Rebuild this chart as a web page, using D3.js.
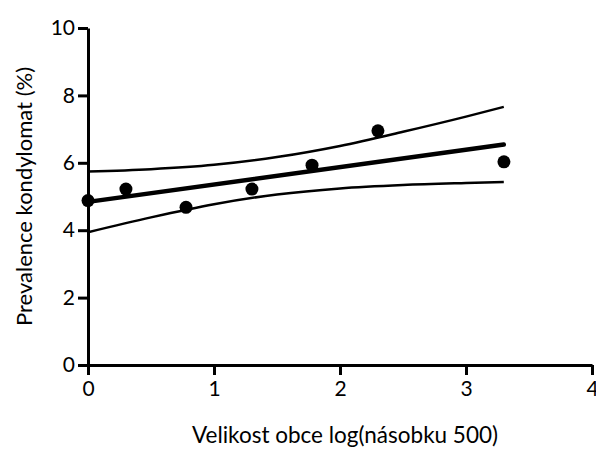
<!DOCTYPE html>
<html>
<head>
<meta charset="utf-8">
<script src="https://cdn.jsdelivr.net/npm/d3@7"></script>
<style>
  body { margin: 0; background: #fff; }
  text { font-family: Lato, "Noto Sans", sans-serif; fill: #000; }
</style>
</head>
<body>
<div id="chart"></div>
<script>
// data
const xs = [0, 0.301, 0.778, 1.301, 1.778, 2.301, 3.301]
const ys = [4.88, 5.22, 4.68, 5.22, 5.93, 6.95, 6.03]

// regression line end points
const fitX = [0, 3.3]
const fitY = [4.84, 6.54]

// confidence band, sampled along x
const bandX = [0, 0.5, 1, 1.5, 2, 2.5, 3, 3.3]
const bandLow = [3.94, 4.38, 4.77, 5.06, 5.24, 5.34, 5.40, 5.43]
const bandHigh = [5.74, 5.81, 5.94, 6.17, 6.50, 6.92, 7.37, 7.66]

const xTicks = [0, 1, 2, 3, 4]
const yTicks = [0, 2, 4, 6, 8, 10]

const W = 596, H = 450
let margin = {top: 28, right: 4, bottom: 85, left: 88}

let svg = d3.select("#chart").append("svg")
    .attr("width", W).attr("height", H)

let x = d3.scaleLinear().domain([0, 4]).range([margin.left, W - margin.right])
let y = d3.scaleLinear().domain([0, 10]).range([H - margin.bottom, margin.top])

// axes
let xAxis = svg.append("g")
    .attr("transform", `translate(0,${y(0)})`)
    .call(d3.axisBottom(x).tickValues(xTicks).tickFormat(d3.format("d"))
        .tickSize(10).tickPadding(6).tickSizeOuter(0))
let yAxis = svg.append("g")
    .attr("transform", `translate(${x(0)},0)`)
    .call(d3.axisLeft(y).tickValues(yTicks).tickFormat(d3.format("d"))
        .tickSize(10).tickPadding(3).tickSizeOuter(0))

for (const a of [xAxis, yAxis]) {
    a.select(".domain").attr("stroke", "#000").attr("stroke-width", 3)
    a.selectAll(".tick line").attr("stroke", "#000").attr("stroke-width", 3)
    a.selectAll(".tick text").style("font-size", "21px").attr("fill", "#000")
}

let line = d3.line().x(d => x(d[0])).y(d => y(d[1]))
let curve = d3.line().x(d => x(d[0])).y(d => y(d[1])).curve(d3.curveMonotoneX)

// confidence bands
svg.append("path").datum(d3.zip(bandX, bandHigh))
    .attr("d", curve).attr("fill", "none").attr("stroke", "#000").attr("stroke-width", 2.5)
svg.append("path").datum(d3.zip(bandX, bandLow))
    .attr("d", curve).attr("fill", "none").attr("stroke", "#000").attr("stroke-width", 2.5)

// fit line
svg.append("path").datum(d3.zip(fitX, fitY))
    .attr("d", line).attr("fill", "none").attr("stroke", "#000").attr("stroke-width", 4.5)
    .attr("stroke-linecap", "round")

// points
svg.selectAll("circle.pt").data(d3.zip(xs, ys)).join("circle")
    .attr("class", "pt")
    .attr("cx", d => x(d[0])).attr("cy", d => y(d[1]))
    .attr("r", 6.5).attr("fill", "#000")

// axis titles
svg.append("text")
    .attr("x", 345).attr("y", 443)
    .attr("text-anchor", "middle")
    .style("font-size", "22.5px")
    .text("Velikost obce log(násobku 500)")

svg.append("text")
    .attr("transform", `translate(32,${(y(0) + y(10)) / 2}) rotate(-90)`)
    .attr("text-anchor", "middle")
    .style("font-size", "22px")
    .text("Prevalence kondylomat (%)")
</script>
</body>
</html>
